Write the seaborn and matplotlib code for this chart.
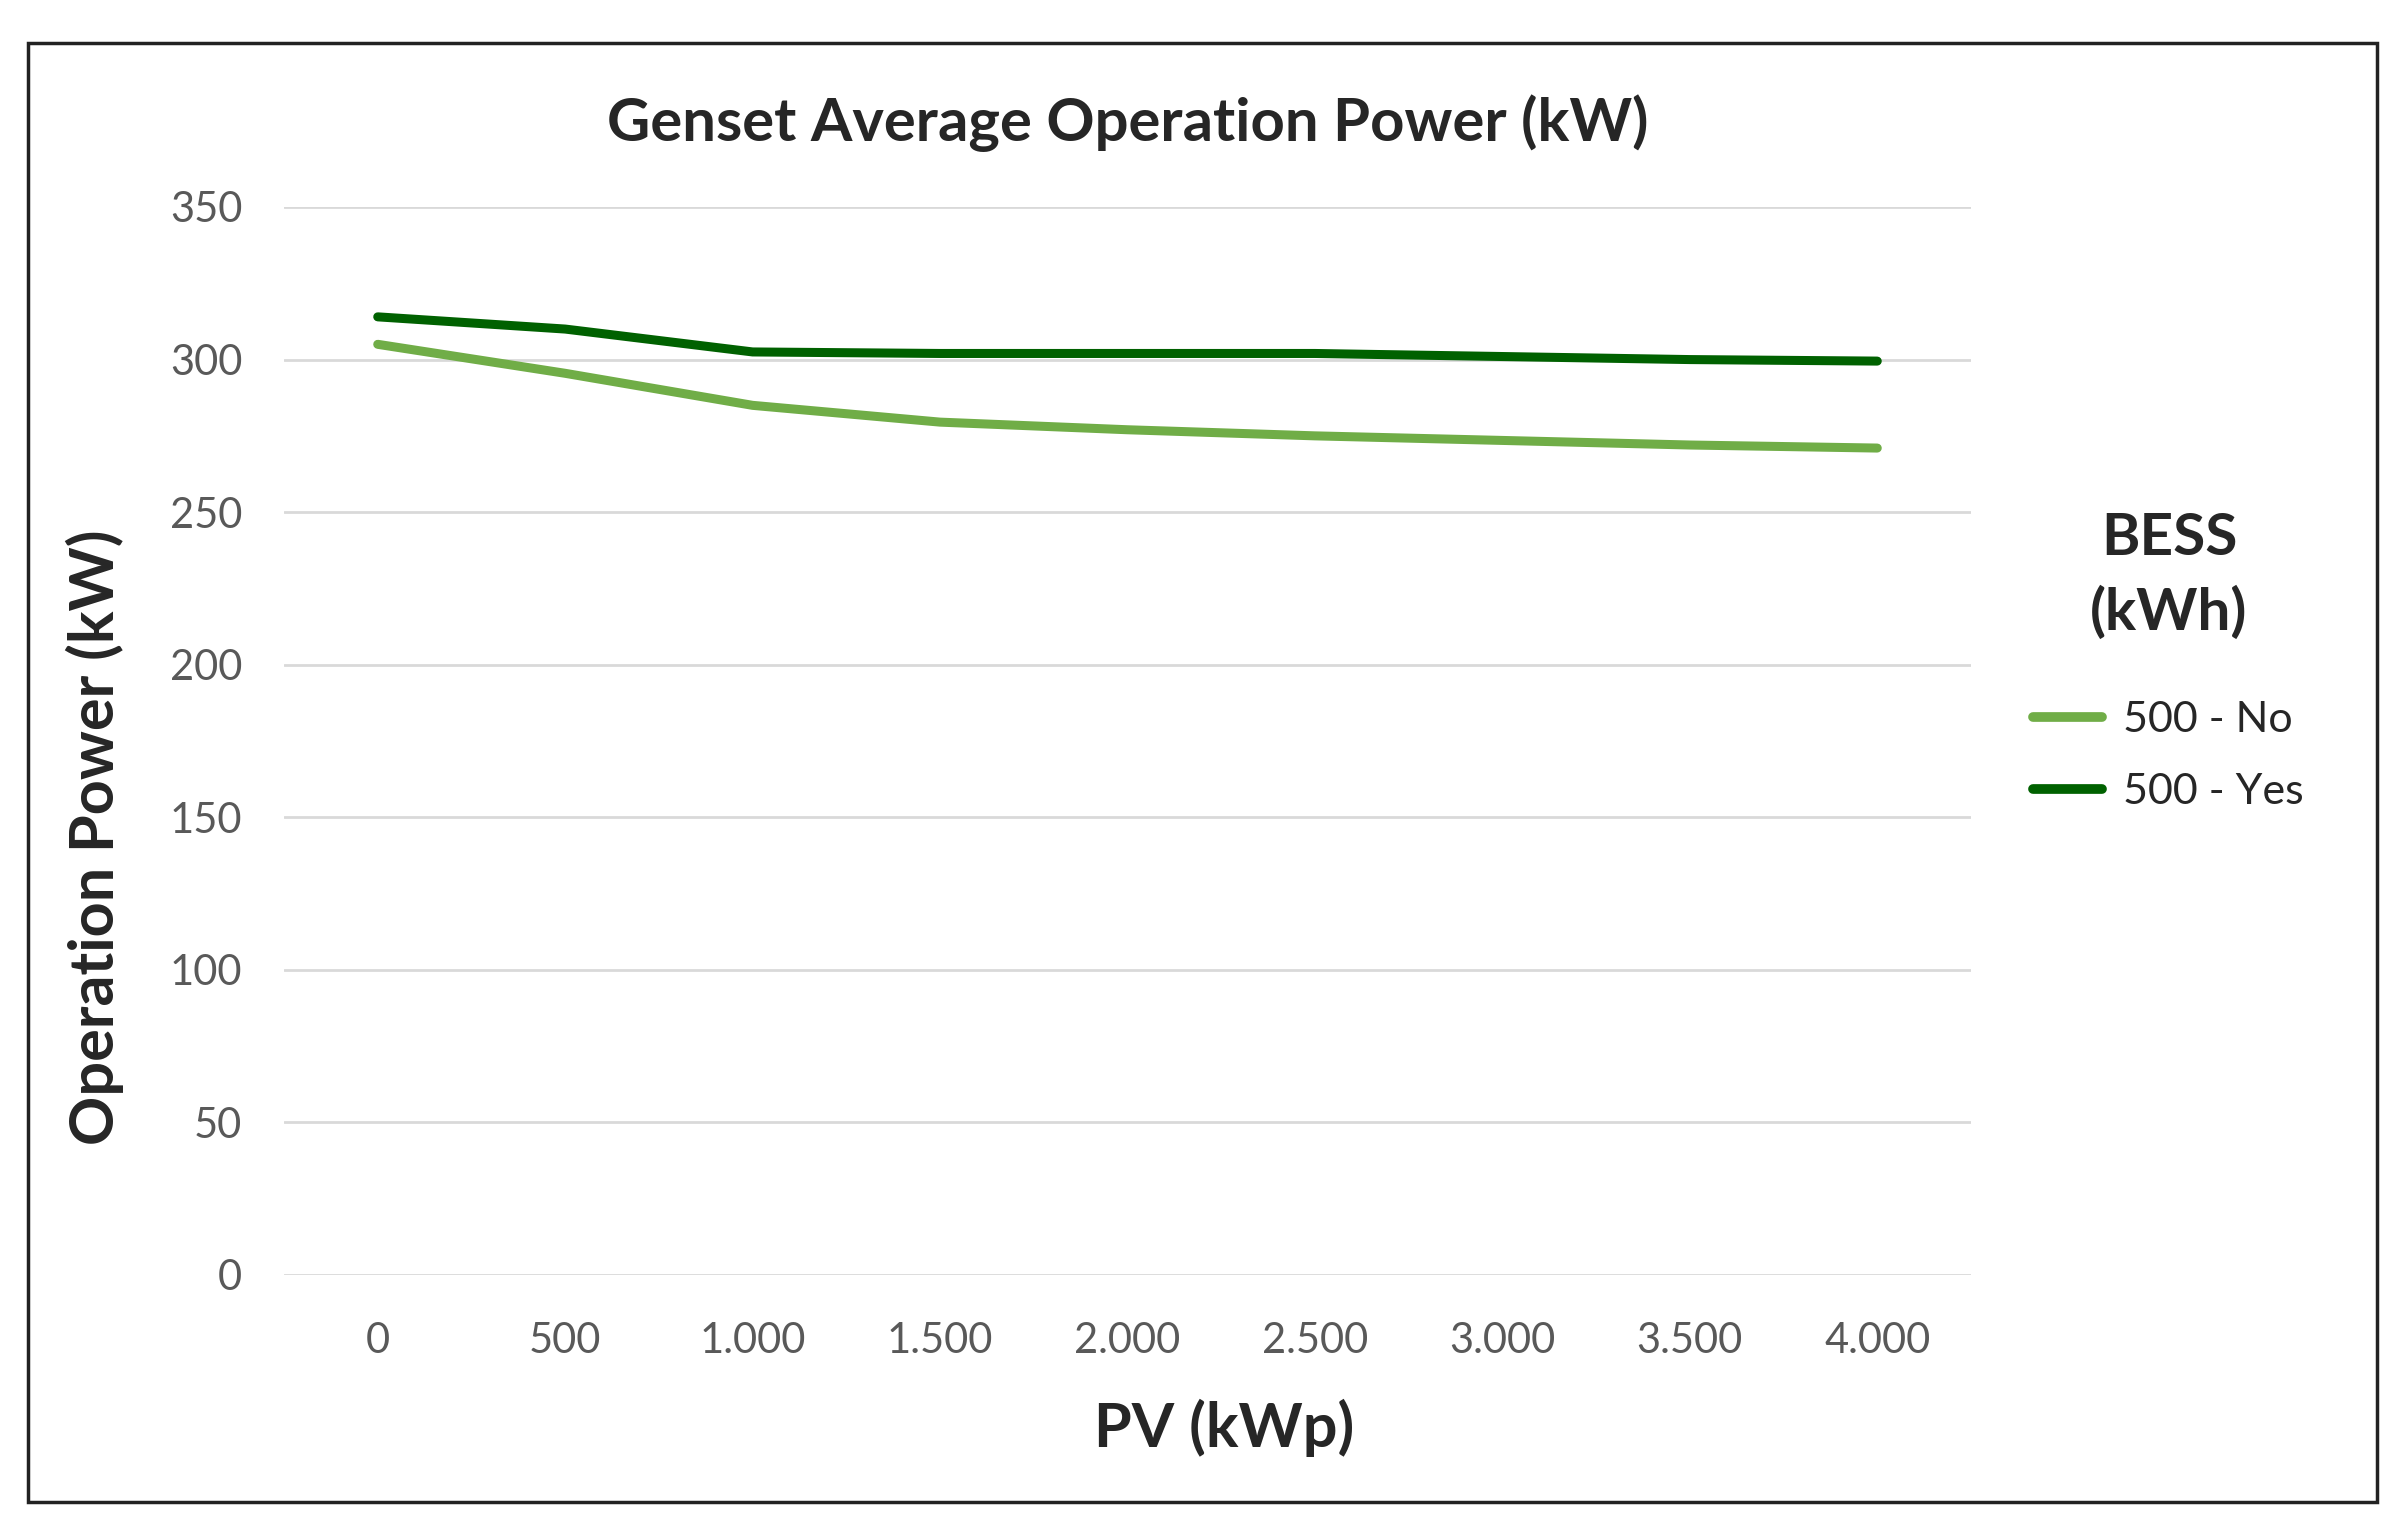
import numpy as np
import pandas as pd
import matplotlib
matplotlib.use("Agg")
import matplotlib.pyplot as plt
from matplotlib.patches import Rectangle
import seaborn as sns

# values
pv_labels = ["0", "500", "1.000", "1.500", "2.000", "2.500", "3.000", "3.500", "4.000"]
bess_no = [305, 295.5, 285, 279.5, 277, 275, 273.5, 272, 271]
bess_yes = [314, 310, 302.5, 302, 302, 302, 301, 300, 299.5]
series_names = ["500 - No", "500 - Yes"]
series_colors = ["#70AD47", "#006100"]

df = pd.DataFrame({
    "PV": pv_labels * 2,
    "power": bess_no + bess_yes,
    "BESS": [series_names[0]] * len(pv_labels) + [series_names[1]] * len(pv_labels),
})

sns.set_theme(style="white")
plt.rcParams["font.family"] = ["Lato", "DejaVu Sans"]

W, H = 2396, 1525
fig = plt.figure(figsize=(W / 100, H / 100), dpi=100)
ax = fig.add_axes([284 / W, 1 - 1275 / H, (1971 - 284) / W, (1275 - 207) / H])

sns.lineplot(data=df, x="PV", y="power", hue="BESS", palette=series_colors,
             linewidth=6.5, sort=False, ax=ax)

ax.set_ylim(0, 350)
ax.set_xlim(-0.5, len(pv_labels) - 0.5)
ax.set_yticks(np.arange(0, 351, 50))
ax.yaxis.grid(True, color="#D9D9D9", linewidth=2)
ax.xaxis.grid(False)
ax.set_axisbelow(True)
for s in ax.spines.values():
    s.set_visible(False)
ax.tick_params(axis="both", length=0, labelsize=30, labelcolor="#595959")
ax.tick_params(axis="x", pad=34)
ax.tick_params(axis="y", pad=30)
ax.set_xlabel("")
ax.set_ylabel("")

fig.text(0.5 * (284 + 1971) / W, 1 - 123 / H, "Genset Average Operation Power (kW)",
         ha="center", va="center", fontsize=43, fontweight="bold")
fig.text(95 / W, 1 - 837 / H, "Operation Power (kW)", rotation=90,
         ha="center", va="center", fontsize=44, fontweight="bold")
fig.text(1224 / W, 1 - 1428 / H, "PV (kWp)", ha="center", va="center",
         fontsize=44, fontweight="bold")

# legend title drawn separately so the gap to the entries can match
fig.text(2169 / W, 1 - 576 / H, "BESS\n(kWh)", ha="center", va="center",
         fontsize=42, fontweight="bold", linespacing=1.45)
leg = ax.legend(loc="center left", frameon=False,
                bbox_to_anchor=(2033 / W, 1 - 756 / H), bbox_transform=fig.transFigure,
                fontsize=31, handlelength=1.6, handletextpad=0.5, labelspacing=0.78,
                borderpad=0, borderaxespad=0)
for line in leg.get_lines():
    line.set_linewidth(7)

fig.patches.append(Rectangle((28 / W, 1 - 1502 / H), (2377 - 28) / W, (1502 - 43) / H,
                             transform=fig.transFigure, fill=False,
                             edgecolor="#222222", linewidth=2.5))

fig.savefig("out.png", dpi=100, facecolor="white")
